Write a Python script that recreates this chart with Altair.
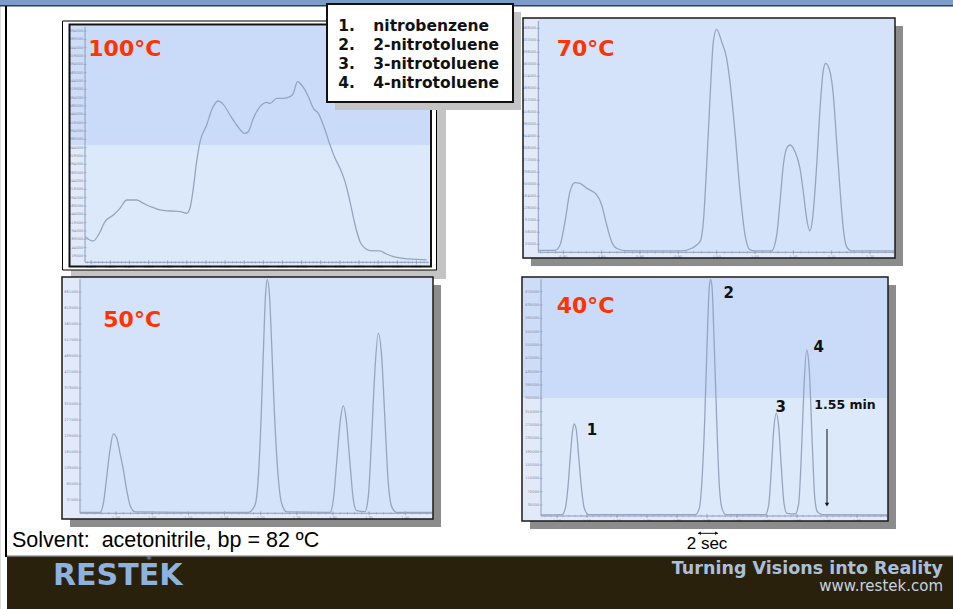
import altair as alt
import pandas as pd

# ---------------- chromatogram traces (time in s, response in arbitrary units) -------------
T100 = [25.02, 25.67, 26.07, 26.59, 27.24, 27.76, 28.29, 29.07, 29.46, 29.85, 30.38, 30.90,
        31.68, 32.47, 32.99, 33.25, 33.51, 33.77, 34.04, 34.56, 34.95, 35.47, 35.86, 36.39,
        36.91, 37.56, 37.82, 38.22, 38.74, 39.26, 39.52, 40.05, 40.57, 41.09, 41.35, 41.67,
        42.00, 42.53, 42.92, 43.31, 43.70, 44.23, 44.62, 45.01, 45.40, 45.79, 46.19, 46.58,
        46.97, 47.36, 48.15, 48.54, 49.19, 49.97, 51.02, 51.80]
R100 = [77, 64, 82, 122, 142, 162, 187, 187, 180, 172, 164, 157, 154, 152, 147, 162, 222, 302,
        362, 412, 457, 484, 474, 442, 412, 387, 392, 432, 467, 480, 477, 492, 492, 497, 507,
        542, 532, 497, 462, 447, 412, 352, 312, 282, 242, 182, 112, 62, 42, 35, 34, 27, 17,
        12, 9, 7]

T70 = [46.04, 47.35, 47.74, 48.13, 48.52, 48.91, 49.30, 49.83, 50.61, 51.00, 51.39, 51.78,
       52.17, 52.83, 54.65, 57.26, 58.04, 58.70, 58.96, 59.22, 59.48, 59.74, 60.00, 60.39,
       60.78, 61.04, 61.43, 61.83, 62.22, 62.61, 63.00, 64.30, 64.70, 64.96, 65.22, 65.48,
       65.74, 66.13, 66.52, 66.78, 67.04, 67.30, 67.51, 67.83, 68.09, 68.35, 68.53, 68.87,
       69.13, 69.39, 69.65, 69.91, 70.17, 70.57, 73.88]
R70 = [2, 2, 18, 88, 178, 205, 203, 188, 168, 138, 78, 28, 8, 1, 0, 0, 8, 28, 88, 258, 458,
       628, 665, 628, 578, 508, 358, 178, 48, 3, 0, 0, 48, 148, 258, 308, 318, 298, 248, 178,
       98, 60, 98, 258, 428, 543, 563, 538, 468, 328, 188, 68, 13, 0, 0]

T50 = [57.01, 58.67, 58.95, 59.23, 59.50, 59.78, 60.06, 60.33, 60.61, 60.88, 61.16, 61.58,
       66.00, 70.98, 71.53, 71.81, 72.03, 72.22, 72.41, 72.55, 72.72, 72.91, 73.13, 73.41,
       73.74, 74.16, 77.75, 78.03, 78.30, 78.58, 78.86, 79.13, 79.41, 79.69, 79.96, 80.65,
       80.93, 81.21, 81.48, 81.76, 82.04, 82.31, 82.59, 82.87, 83.28, 86.24]
R50 = [0, 0, 27, 107, 187, 235, 222, 177, 127, 67, 22, 1, 0, 0, 22, 107, 277, 477, 657, 699,
       657, 507, 307, 127, 27, 1, 0, 37, 147, 267, 319, 267, 147, 37, 5, 2, 47, 227, 427, 537,
       467, 277, 87, 17, 0, 0]

T40 = [64.43, 66.50, 66.83, 67.10, 67.33, 67.57, 67.73, 67.93, 68.17, 68.43, 68.73, 69.17,
       79.83, 80.23, 80.50, 80.77, 81.00, 81.23, 81.37, 81.50, 81.73, 81.97, 82.20, 82.50,
       82.90, 86.83, 87.17, 87.43, 87.67, 87.93, 88.17, 88.43, 88.70, 89.00, 89.83, 90.17,
       90.43, 90.70, 90.97, 91.23, 91.50, 91.77, 92.03, 92.50, 99.00]
R40 = [0, 1, 20, 85, 175, 255, 273, 255, 175, 85, 20, 1, 1, 20, 105, 285, 505, 685, 707, 685,
       505, 285, 105, 20, 1, 1, 30, 135, 255, 305, 265, 145, 35, 5, 3, 35, 175, 385, 495, 435,
       235, 55, 10, 1, 0]

TEMPS = ["100°C", "70°C", "50°C", "40°C"]
COMPOUNDS = ["nitrobenzene", "2-nitrotoluene", "3-nitrotoluene", "4-nitrotoluene"]
PEAK_IDS = ["1", "2", "3", "4"]
PEAK_LABEL_T = [69.5, 83.16, 88.38, 92.16]
PEAK_LABEL_R = [240, 650, 310, 490]
END_TIME = 93.0            # 1.55 min
END_LABEL = "1.55 min"
SCALE_BAR_T = [80.1, 82.1]  # 2 sec
SCALE_BAR_LABEL = "2 sec"
SOLVENT = "Solvent:\u00a0 acetonitrile, bp = 82 ºC"

X_TICKS_100 = [25.5 + 1.5 * i for i in range(18)]
X_TICKS_70 = [48 + 3 * i for i in range(9)]
X_TICKS_50 = [60 + 3 * i for i in range(9)]
X_TICKS_40 = [66 + 3 * i for i in range(11)]
Y_TICKS_100 = [19 + 25 * i for i in range(28)]
Y_TICKS_70 = [20 + 36 * i for i in range(19)]
Y_TICKS_50 = [37 + 48 * i for i in range(14)]
Y_TICKS_40 = [30 + 40 * i for i in range(17)]

# ---------------- styling ----------------
BOLD = "DejaVu Sans"
LINE_C = "#96a5bf"
AXIS_C = "#8e9cb8"
TICKTXT_C = "#7d8ba6"
STRIP_C = "#e2eafa"
BG_C = "#d4e3f9"
BG_LIGHT = "#dce9fb"
OVER_C = "#8fb3ee"
TITLE_C = "#ff3300"


def one_row():
    return alt.Data(values=[{"k": 0}])


def rect(x1, y1, x2, y2, **kw):
    return alt.Chart(one_row()).mark_rect(**kw).encode(
        x=alt.value(x1), x2=alt.value(x2), y=alt.value(y1), y2=alt.value(y2))


def text(s, x, y, **kw):
    return alt.Chart(one_row()).mark_text(text=s, **kw).encode(
        x=alt.value(x), y=alt.value(y))


def panel(t, r, xdom, xr, ydom, yr, xticks, yticks, xfmt, extra=None):
    xs = alt.Scale(domain=xdom, range=xr, nice=False, zero=False)
    ys = alt.Scale(domain=ydom, range=yr, nice=False, zero=False)

    def X(f):
        return alt.X(f, scale=xs, axis=None)

    def Y(f):
        return alt.Y(f, scale=ys, axis=None)

    step = xticks[1] - xticks[0]
    minor = []
    k = 0
    while True:
        v = xticks[0] - step + k * step / 5
        if v > xdom[1]:
            break
        if v >= xdom[0]:
            minor.append(v)
        k += 1

    ax = alt.Data(values=[{"x0": xdom[0], "x1": xdom[1], "y0": ydom[0], "y1": ydom[1]}])
    yaxis = alt.Chart(ax).mark_rule(color=AXIS_C, strokeWidth=1).encode(
        x=X("x0:Q"), y=Y("y0:Q"), y2="y1:Q")
    xaxis = alt.Chart(ax).mark_rule(color=AXIS_C, strokeWidth=1).encode(
        x=X("x0:Q"), x2="x1:Q", y=Y("y0:Q"))

    ydf = pd.DataFrame({"v": yticks, "x": xdom[0],
                        "lab": [str(v * 1000) for v in yticks]})
    ytk = alt.Chart(ydf).mark_tick(orient="horizontal", size=3, thickness=1,
                                   color=AXIS_C).encode(x=X("x:Q"), y=Y("v:Q"))
    ylab = alt.Chart(ydf).mark_text(align="right", baseline="middle", dx=-2,
                                    fontSize=3.6, font=BOLD, color=TICKTXT_C).encode(
        x=X("x:Q"), y=Y("v:Q"), text="lab:N")

    xdf = pd.DataFrame({"v": xticks, "y": ydom[0],
                        "lab": [xfmt.format(v / 60) for v in xticks]})
    mdf = pd.DataFrame({"v": minor, "y": ydom[0]})
    xmin = alt.Chart(mdf).mark_tick(orient="vertical", size=2.5, thickness=0.8,
                                    color=AXIS_C).encode(x=X("v:Q"), y=Y("y:Q"))
    xtk = alt.Chart(xdf).mark_tick(orient="vertical", size=4, thickness=1,
                                   color=AXIS_C).encode(x=X("v:Q"), y=Y("y:Q"))
    xlab = alt.Chart(xdf).mark_text(align="center", baseline="top", dy=2.5,
                                    fontSize=3.6, font=BOLD, color=TICKTXT_C).encode(
        x=X("v:Q"), y=Y("y:Q"), text="lab:N")

    line = alt.Chart(pd.DataFrame({"t": t, "r": r})).mark_line(
        interpolate="monotone", color=LINE_C, strokeWidth=1.3).encode(
        x=X("t:Q"), y=Y("r:Q"))

    layers = [ytk, ylab, xmin, xtk, xlab, yaxis, xaxis, line]
    if extra is not None:
        layers += extra(X, Y)
    return alt.layer(*layers)


def extras40(X, Y):
    lab = pd.DataFrame({"t": PEAK_LABEL_T, "r": PEAK_LABEL_R, "s": PEAK_IDS})
    peaks = alt.Chart(lab).mark_text(font=BOLD, fontWeight="bold", fontSize=15,
                                     baseline="alphabetic", align="center",
                                     color="#111111").encode(
        x=X("t:Q"), y=Y("r:Q"), text="s:N")
    end_lab = alt.Chart(alt.Data(values=[{"t": 91.73, "r": 317, "s": END_LABEL}])).mark_text(
        font=BOLD, fontWeight="bold", fontSize=12.5, align="left", baseline="alphabetic",
        color="#111111").encode(x=X("t:Q"), y=Y("r:Q"), text="s:N")
    arrow = alt.Chart(alt.Data(values=[{"t": END_TIME, "r1": 258, "r2": 30}])).mark_rule(
        color="#111111", strokeWidth=1).encode(x=X("t:Q"), y=Y("r1:Q"), y2="r2:Q")
    head = alt.Chart(alt.Data(values=[{"t": END_TIME, "r": 31}])).mark_point(
        shape="triangle-down", filled=True, size=18, color="#111111", opacity=1).encode(
        x=X("t:Q"), y=Y("r:Q"))
    bar = alt.Chart(alt.Data(values=[{"t1": SCALE_BAR_T[0], "t2": SCALE_BAR_T[1],
                                      "r": -55}])).mark_rule(
        color="#111111", strokeWidth=1).encode(x=X("t1:Q"), x2="t2:Q", y=Y("r:Q"))
    bar_heads = alt.Chart(pd.DataFrame({"t": [SCALE_BAR_T[0] + 0.15, SCALE_BAR_T[1] - 0.15],
                                        "r": [-55, -55],
                                        "sh": ["triangle-left", "triangle-right"]})).mark_point(
        filled=True, size=12, color="#111111", opacity=1).encode(
        x=X("t:Q"), y=Y("r:Q"),
        shape=alt.Shape("sh:N", scale=None, legend=None))
    sec = alt.Chart(alt.Data(values=[{"t": 78.97, "r": -103, "s": SCALE_BAR_LABEL}])).mark_text(
        font="Liberation Sans", fontSize=17, align="left", baseline="alphabetic",
        color="#000000").encode(x=X("t:Q"), y=Y("r:Q"), text="s:N")
    return [peaks, end_lab, arrow, head, bar, bar_heads, sec]


def title(s, x, y):
    return text(s, x, y, align="left", baseline="alphabetic", font=BOLD,
                fontWeight="bold", fontSize=22, color=TITLE_C)


layers = []
# slide header and border
layers += [
    rect(0, 0, 953, 5, fill="#7b9cc8"),
    rect(0, 5, 953, 6.5, fill="#2f3d58"),
    rect(5, 6, 7, 557, fill="#000000"),
]

# ---- 100 °C panel ----
layers += [
    rect(71, 30, 446, 279, fill="#c4c4c4"),
    rect(62.5, 21, 436.5, 270, fill="#ffffff", stroke="#000000", strokeWidth=1),
    rect(70, 25.5, 430.5, 265.5, fill=STRIP_C),
    rect(85, 26.7, 429, 262.3, fill=BG_LIGHT),
    rect(70, 25.5, 430.5, 145, fill=OVER_C, opacity=0.25),
    panel(T100, R100, [25.02, 51.93], [85, 428.3], [0, 707], [262.3, 26.7],
          X_TICKS_100, Y_TICKS_100, "{:.3f}"),
    rect(69.5, 24.5, 431, 266.5, fillOpacity=0, stroke="#111111", strokeWidth=2),
    title(TEMPS[0], 88.3, 55.7),
]

# ---- legend box ----
layers += [
    rect(335, 12, 521, 110, fill="#c4c4c4"),
    rect(327, 4, 513, 102, fill="#ffffff", stroke="#111111", strokeWidth=2),
]
for i, name in enumerate(COMPOUNDS):
    yb = 30.5 + 19.33 * i
    layers.append(text(f"{i + 1}.", 338.3, yb, align="left", baseline="alphabetic",
                       font=BOLD, fontWeight="bold", fontSize=15.5, color="#111111"))
    layers.append(text(name, 373.3, yb, align="left", baseline="alphabetic",
                       font=BOLD, fontWeight="bold", fontSize=15.5, color="#111111"))

# ---- 70 °C panel ----
layers += [
    rect(531, 26, 903, 266, fill="#8c8c8c"),
    rect(523, 18, 895, 258, fill=STRIP_C),
    rect(538.3, 19, 894, 252.3, fill=BG_C),
    panel(T70, R70, [46.04, 73.88], [538.3, 894], [-4, 690], [252.3, 21],
          X_TICKS_70, Y_TICKS_70, "{:.2f}"),
    rect(523, 18, 895, 258, fillOpacity=0, stroke="#1a1a1a", strokeWidth=1.5),
    title(TEMPS[1], 556.7, 55.7),
]

# ---- 50 °C panel ----
layers += [
    rect(70, 285, 441, 527, fill="#8c8c8c"),
    rect(62, 277, 433, 519, fill=STRIP_C),
    rect(80, 278, 432, 513.3, fill=BG_C),
    panel(T50, R50, [57.01, 86.24], [80, 432.3], [-3, 699], [513.3, 279.3],
          X_TICKS_50, Y_TICKS_50, "{:.2f}"),
    rect(62, 277, 433, 519, fillOpacity=0, stroke="#1a1a1a", strokeWidth=1.5),
    title(TEMPS[2], 103.3, 327.3),
]

# ---- 40 °C panel ----
layers += [
    rect(530, 285, 896, 529, fill="#8c8c8c"),
    rect(522, 277, 888, 521, fill=STRIP_C),
    rect(541, 278, 887, 516, fill=BG_LIGHT),
    rect(523, 278, 887, 398, fill=OVER_C, opacity=0.25),
    panel(T40, R40, [64.4, 99.0], [541, 887], [-3, 707], [516, 279.3],
          X_TICKS_40, Y_TICKS_40, "{:.2f}", extra=extras40),
    rect(522, 277, 888, 521, fillOpacity=0, stroke="#1a1a1a", strokeWidth=1.5),
    title(TEMPS[3], 556.7, 313.3),
]

# ---- solvent note and footer ----
layers += [
    text(SOLVENT, 12, 547, align="left", baseline="alphabetic", font="Liberation Sans",
         fontSize=21.5, color="#000000"),
    rect(7, 555.5, 953, 557, fill="#6d6d6d"),
    rect(7, 557, 953, 609, fill="#2a210c"),
    text("RESTEK", 53, 585, align="left", baseline="alphabetic", font=BOLD,
         fontWeight="bold", fontSize=30, color="#8db2df"),
    text("®", 146, 560, align="left", baseline="alphabetic", font=BOLD,
         fontSize=6, color="#8db2df"),
    text("Turning Visions into Reality", 943, 574, align="right", baseline="alphabetic",
         font=BOLD, fontWeight="bold", fontSize=17.5, color="#a8c0dc"),
    text("www.restek.com", 943, 591, align="right", baseline="alphabetic",
         font=BOLD, fontSize=15, color="#c6d2e0"),
]

chart = alt.layer(*layers).resolve_scale(
    x="independent", y="independent"
).properties(
    width=953, height=609, padding=0, autosize=alt.AutoSizeParams(type="none")
).configure_view(strokeWidth=0).configure(background="#ffffff")

chart.save("out.html", embed_options={"renderer": "svg", "actions": False})
